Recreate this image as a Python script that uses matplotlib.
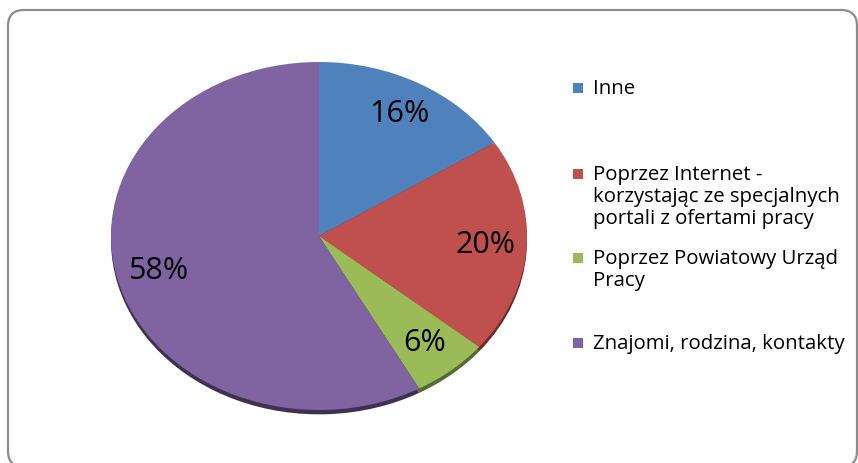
import matplotlib
matplotlib.use("Agg")
import matplotlib.pyplot as plt
from matplotlib import patches
from matplotlib.transforms import IdentityTransform

# data
labels = ["Inne",
          "Poprzez Internet -\nkorzystając ze specjalnych\nportali z ofertami pracy",
          "Poprzez Powiatowy Urząd\nPracy",
          "Znajomi, rodzina, kontakty"]
values = [16, 20, 6, 58]
colors = ["#4F81BD", "#C0504D", "#9BBB59", "#8064A2"]
shadow_colors = ["#2C4A6E", "#6E2B29", "#556B2F", "#3F3151"]

plt.rcParams['font.family'] = ['Open Sans', 'DejaVu Sans']

fig = plt.figure(figsize=(8.58, 4.63), dpi=100)
fig.patch.set_facecolor("white")

# rounded frame (pixels)
frame = patches.FancyBboxPatch((8, -4), 849, 457, boxstyle="round,pad=0,rounding_size=16",
                               facecolor="white", edgecolor="#8c8c8c", linewidth=1.6,
                               transform=IdentityTransform(), zorder=-5)
fig.add_artist(frame)

W, H = 858.0, 463.0
ax = fig.add_axes([111 / W, (H - 410) / H, 416 / W, 348 / H])

# shadow below the pie
sh, _ = ax.pie(values, colors=shadow_colors, startangle=90, counterclock=False,
               center=(0, -0.025), radius=1.0)
wedges, texts, autotexts = ax.pie(values, colors=colors, startangle=90, counterclock=False,
                                  autopct="%d%%", pctdistance=0.8,
                                  textprops=dict(fontsize=22, color="black"))
ax.set_aspect("auto")
ax.set_xlim(-1, 1)
ax.set_ylim(-1, 1)
ax.axis("off")

# legend on the right
leg_y = [88, 174, 258, 343]
for lab, col, y in zip(labels, colors, leg_y):
    fig.add_artist(patches.Rectangle((573, H - y - 5), 10, 10, facecolor=col, edgecolor="none",
                                     transform=IdentityTransform()))
    fig.text(593 / W, (H - y + 9) / H, lab, fontsize=14.7, va="top", ha="left",
             linespacing=1.14, color="black")

fig.savefig("out.png", dpi=100)
